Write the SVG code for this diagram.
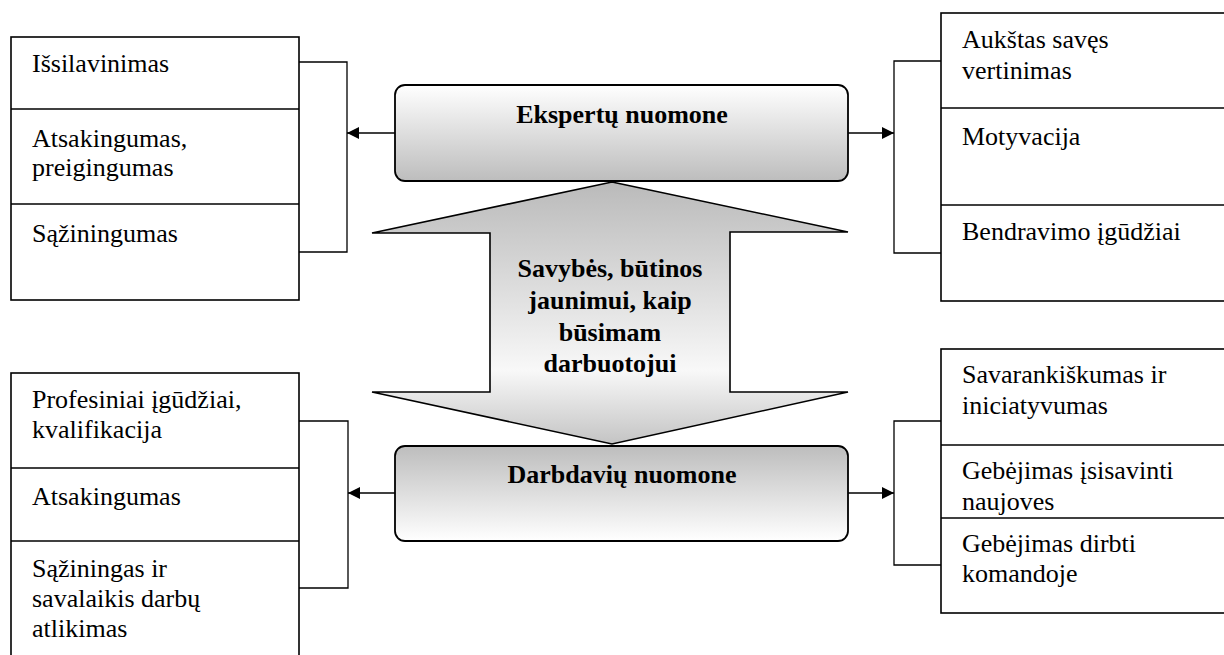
<svg xmlns="http://www.w3.org/2000/svg" width="1224" height="655" viewBox="0 0 1224 655">
<style>
.box{fill:#fff;stroke:#000;stroke-width:1.6}
.div{stroke:#000;stroke-width:1.6}
.br{fill:none;stroke:#000;stroke-width:1.3}
.conn{stroke:#000;stroke-width:1.3}
.t{font-size:26px;fill:#000}
.b{font-size:26px;fill:#000;font-weight:bold;text-anchor:middle}
.cb{stroke:#000;stroke-width:1.8}
</style>
<defs>
<linearGradient id="gTop" x1="0" y1="0" x2="0" y2="1">
<stop offset="0" stop-color="#ffffff"/>
<stop offset="1" stop-color="#bdbdbd"/>
</linearGradient>
<linearGradient id="gBot" x1="0" y1="0" x2="0" y2="1">
<stop offset="0" stop-color="#bdbdbd"/>
<stop offset="1" stop-color="#ffffff"/>
</linearGradient>
<linearGradient id="gArr" x1="0" y1="0" x2="0" y2="1">
<stop offset="0" stop-color="#bababa"/>
<stop offset="0.72" stop-color="#f8f8f8"/>
<stop offset="1" stop-color="#c4c4c4"/>
</linearGradient>
<marker id="ah" viewBox="0 0 10 10" refX="10" refY="5" markerWidth="14" markerHeight="12" markerUnits="userSpaceOnUse" orient="auto">
<path d="M0,0 L10,5 L0,10 z" fill="#000"/>
</marker>
</defs>

<g font-family="Liberation Serif, Times New Roman, serif">
<g id="arrow-center">
<polygon points="612,182 848,232 730,232 730,392 848,392 612,444 372,392 490,392 490,233 372,233" fill="url(#gArr)" stroke="#000" stroke-width="1.6" stroke-linejoin="miter"/>
<text class="b" x="610" y="277">Savybės, būtinos</text>
<text class="b" x="610" y="309">jaunimui, kaip</text>
<text class="b" x="610" y="341">būsimam</text>
<text class="b" x="610" y="372">darbuotojui</text>
</g>

<g id="experts">
<rect x="395" y="85" width="453" height="96" rx="10" fill="url(#gTop)" class="cb"/>
<text class="b" x="622" y="123">Ekspertų nuomone</text>
</g>

<g id="employers">
<rect x="395" y="446" width="453" height="95" rx="10" fill="url(#gBot)" class="cb"/>
<text class="b" x="622" y="483">Darbdavių nuomone</text>
</g>

<g id="experts-left">
<rect class="box" x="11" y="37" width="288" height="263"/>
<line class="div" x1="11" y1="109" x2="299" y2="109"/>
<line class="div" x1="11" y1="204" x2="299" y2="204"/>
<text class="t" x="32" y="72">Išsilavinimas</text>
<text class="t" x="32" y="147">Atsakingumas,</text>
<text class="t" x="32" y="176">preigingumas</text>
<text class="t" x="32" y="242">Sąžiningumas</text>
</g>

<g id="experts-right">
<rect class="box" x="941" y="13" width="300" height="288"/>
<line class="div" x1="941" y1="108" x2="1241" y2="108"/>
<line class="div" x1="941" y1="205" x2="1241" y2="205"/>
<text class="t" x="962" y="48">Aukštas savęs</text>
<text class="t" x="962" y="79">vertinimas</text>
<text class="t" x="962" y="145">Motyvacija</text>
<text class="t" x="962" y="240">Bendravimo įgūdžiai</text>
</g>

<g id="employers-left">
<rect class="box" x="11" y="373" width="288" height="300"/>
<line class="div" x1="11" y1="468" x2="299" y2="468"/>
<line class="div" x1="11" y1="541" x2="299" y2="541"/>
<text class="t" x="32" y="408">Profesiniai įgūdžiai,</text>
<text class="t" x="32" y="438">kvalifikacija</text>
<text class="t" x="32" y="505">Atsakingumas</text>
<text class="t" x="32" y="577">Sąžiningas ir</text>
<text class="t" x="32" y="607">savalaikis darbų</text>
<text class="t" x="32" y="637">atlikimas</text>
</g>

<g id="employers-right">
<rect class="box" x="941" y="349" width="300" height="264"/>
<line class="div" x1="941" y1="445" x2="1241" y2="445"/>
<line class="div" x1="941" y1="518" x2="1241" y2="518"/>
<text class="t" x="962" y="383">Savarankiškumas ir</text>
<text class="t" x="962" y="414">iniciatyvumas</text>
<text class="t" x="962" y="479">Gebėjimas įsisavinti</text>
<text class="t" x="962" y="510">naujoves</text>
<text class="t" x="962" y="552">Gebėjimas dirbti</text>
<text class="t" x="962" y="582">komandoje</text>
</g>
</g>

<g id="connectors">
<path class="br" d="M299,62 H347 V252 H299"/>
<path class="br" d="M941,61 H894 V253 H941"/>
<path class="br" d="M299,421 H348 V588 H299"/>
<path class="br" d="M941,421 H894 V565 H941"/>
<line class="conn" x1="395" y1="133" x2="347" y2="133" marker-end="url(#ah)"/>
<line class="conn" x1="848" y1="133" x2="894" y2="133" marker-end="url(#ah)"/>
<line class="conn" x1="395" y1="493" x2="348" y2="493" marker-end="url(#ah)"/>
<line class="conn" x1="848" y1="493" x2="894" y2="493" marker-end="url(#ah)"/>
</g>
</svg>
